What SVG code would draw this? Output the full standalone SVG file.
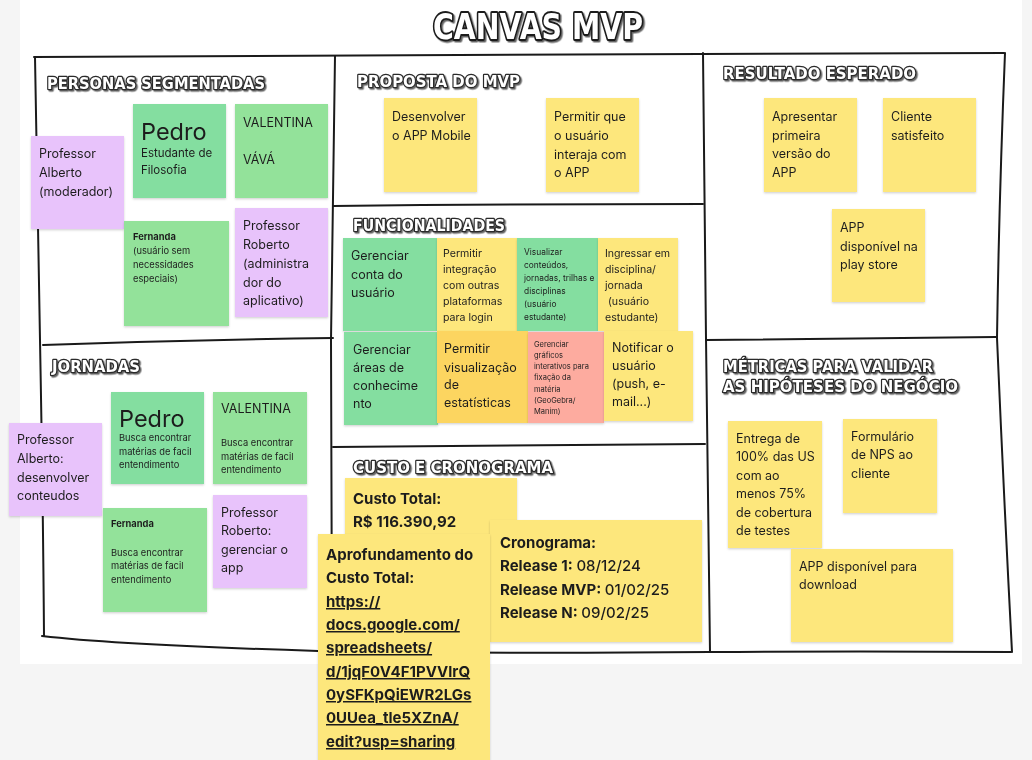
<svg xmlns="http://www.w3.org/2000/svg" width="1032" height="760" viewBox="0 0 1032 760">
<defs>
<style>
.bg{fill:#f5f5f5}
.paper{fill:#ffffff}
.ln{fill:none;stroke:#1a1a1a;stroke-width:2;stroke-linecap:round;stroke-linejoin:round}
.y{fill:#fde77c}
.o{fill:#fcd560}
.g1{fill:#84dea0}
.g2{fill:#93e29a}
.p{fill:#e8c3fb}
.s{fill:#fdab9f}
.t{font-family:Inter,"Liberation Sans",sans-serif;fill:#1e1e1e}
.f12{font-size:12.5px}
.f11{font-size:10.6px}
.f9{font-size:9.3px}
.f8{font-size:8.4px}
.f7{font-size:7.5px}
.big{font-size:23.5px}
.b15{font-size:15px;font-weight:700}
.r15{font-size:15px;font-weight:500}
.u{text-decoration:underline}
.hd{font-family:"DejaVu Sans","Liberation Sans",sans-serif;font-weight:bold;font-size:16px;fill:#ffffff;stroke:#2a2a2a;stroke-width:2.6;paint-order:stroke;stroke-linejoin:round}
.title{font-family:"DejaVu Sans","Liberation Sans",sans-serif;font-weight:bold;font-size:35px;fill:#ffffff;stroke:#1a1a1a;stroke-width:3.8;paint-order:stroke;stroke-linejoin:round}
</style>
<filter id="sh" x="-10%" y="-10%" width="120%" height="130%">
<feDropShadow dx="0" dy="1.2" stdDeviation="1.2" flood-color="#000" flood-opacity="0.18"/>
</filter>
<filter id="hs" x="-5%" y="-30%" width="110%" height="160%">
<feDropShadow dx="1.5" dy="1.5" stdDeviation="0.3" flood-color="#555" flood-opacity="0.9"/>
</filter>
</defs>

<rect class="bg" x="0" y="0" width="1032" height="760"/>
<rect class="paper" x="20" y="0" width="1002" height="664"/>

<g id="title">
<text class="title" x="433" y="39" textLength="210" lengthAdjust="spacingAndGlyphs" filter="url(#hs)">CANVAS MVP</text>
</g>

<g id="frame">
<path class="ln" d="M34,57 Q400,55 700,54 Q860,53 1004,53"/>
<path class="ln" d="M35,57 Q38,200 40,340 Q43,500 44,636"/>
<path class="ln" d="M42,636 Q120,645 318,651 Q500,654 710,652 Q860,651 1011,652"/>
<path class="ln" d="M43,345 Q190,340 333,338"/>
<path class="ln" d="M335,56 Q333,200 331,340 Q331,500 332,650"/>
<path class="ln" d="M333,206 Q520,204 703,204"/>
<path class="ln" d="M333,447 Q520,445 705,444"/>
<path class="ln" d="M703,53 Q705,200 706,338 Q708,500 710,652"/>
<path class="ln" d="M706,340 Q850,338 996,337"/>
<path class="ln" d="M1005,53 Q999,200 997,338 Q1004,500 1012,652"/>
</g>

<g id="headings">
<text class="hd" x="47" y="89" textLength="218" lengthAdjust="spacingAndGlyphs" filter="url(#hs)">PERSONAS SEGMENTADAS</text>
<text class="hd" x="357" y="87" textLength="163" lengthAdjust="spacingAndGlyphs" filter="url(#hs)">PROPOSTA DO MVP</text>
<text class="hd" x="353" y="231" textLength="152" lengthAdjust="spacingAndGlyphs" filter="url(#hs)">FUNCIONALIDADES</text>
<text class="hd" x="723" y="79" textLength="193" lengthAdjust="spacingAndGlyphs" filter="url(#hs)">RESULTADO ESPERADO</text>
<text class="hd" x="723" y="372" textLength="210" lengthAdjust="spacingAndGlyphs" filter="url(#hs)">MÉTRICAS PARA VALIDAR</text>
<text class="hd" x="723" y="392" textLength="235" lengthAdjust="spacingAndGlyphs" filter="url(#hs)">AS HIPÓTESES DO NEGÓCIO</text>
<text class="hd" x="52" y="372" textLength="88" lengthAdjust="spacingAndGlyphs" filter="url(#hs)">JORNADAS</text>
<text class="hd" x="353" y="473" textLength="200" lengthAdjust="spacingAndGlyphs" filter="url(#hs)">CUSTO E CRONOGRAMA</text>
</g>

<!-- Personas -->
<g id="persona-alberto" filter="url(#sh)">
<rect class="p" x="31" y="136" width="93" height="93"/>
<text class="t f12" x="39" y="158">Professor</text>
<text class="t f12" x="39" y="177">Alberto</text>
<text class="t f12" x="39" y="196">(moderador)</text>
</g>
<g id="persona-pedro" filter="url(#sh)">
<rect class="g1" x="133" y="104" width="93" height="94"/>
<text class="t big" x="141" y="140">Pedro</text>
<text class="t" style="font-size:11.5px" x="141" y="157">Estudante de</text>
<text class="t" style="font-size:11.5px" x="141" y="174">Filosofia</text>
</g>
<g id="persona-valentina" filter="url(#sh)">
<rect class="g2" x="235" y="104" width="93" height="94"/>
<text class="t f12" x="243" y="127">VALENTINA</text>
<text class="t f12" x="243" y="164">VÁVÁ</text>
</g>
<g id="persona-fernanda" filter="url(#sh)">
<rect class="g2" x="124" y="221" width="105" height="105"/>
<text class="t f9" x="133" y="240" font-weight="700">Fernanda</text>
<text class="t f9" x="133" y="254">(usuário sem</text>
<text class="t f9" x="133" y="268">necessidades</text>
<text class="t f9" x="133" y="282">especiais)</text>
</g>
<g id="persona-roberto" filter="url(#sh)">
<rect class="p" x="235" y="208" width="93" height="109"/>
<text class="t f12" x="243" y="230">Professor</text>
<text class="t f12" x="243" y="249">Roberto</text>
<text class="t f12" x="243" y="268">(administra</text>
<text class="t f12" x="243" y="287">dor do</text>
<text class="t f12" x="243" y="305">aplicativo)</text>
</g>

<!-- Proposta -->
<g id="proposta-1" filter="url(#sh)">
<rect class="y" x="384" y="98" width="93" height="94"/>
<text class="t f12" x="392" y="121">Desenvolver</text>
<text class="t f12" x="392" y="140">o APP Mobile</text>
</g>
<g id="proposta-2" filter="url(#sh)">
<rect class="y" x="546" y="98" width="93" height="94"/>
<text class="t f12" x="554" y="121">Permitir que</text>
<text class="t f12" x="554" y="140">o usuário</text>
<text class="t f12" x="554" y="159">interaja com</text>
<text class="t f12" x="554" y="177">o APP</text>
</g>

<!-- Resultado -->
<g id="resultado-1" filter="url(#sh)">
<rect class="y" x="764" y="98" width="93" height="94"/>
<text class="t f12" x="772" y="121">Apresentar</text>
<text class="t f12" x="772" y="140">primeira</text>
<text class="t f12" x="772" y="158">versão do</text>
<text class="t f12" x="772" y="177">APP</text>
</g>
<g id="resultado-2" filter="url(#sh)">
<rect class="y" x="883" y="98" width="93" height="94"/>
<text class="t f12" x="891" y="121">Cliente</text>
<text class="t f12" x="891" y="140">satisfeito</text>
</g>
<g id="resultado-3" filter="url(#sh)">
<rect class="y" x="832" y="209" width="93" height="93"/>
<text class="t f12" x="840" y="232">APP</text>
<text class="t f12" x="840" y="251">disponível na</text>
<text class="t f12" x="840" y="269">play store</text>
</g>

<!-- Funcionalidades -->
<g id="func-conta" filter="url(#sh)">
<rect class="g1" x="343" y="238" width="94" height="93"/>
<text class="t f12" x="351" y="260">Gerenciar</text>
<text class="t f12" x="351" y="279">conta do</text>
<text class="t f12" x="351" y="297">usuário</text>
</g>
<g id="func-integracao" filter="url(#sh)">
<rect class="y" x="437" y="238" width="80" height="93"/>
<text class="t f11" x="443" y="257">Permitir</text>
<text class="t f11" x="443" y="273">integração</text>
<text class="t f11" x="443" y="289">com outras</text>
<text class="t f11" x="443" y="305">plataformas</text>
<text class="t f11" x="443" y="321">para login</text>
</g>
<g id="func-visualizar" filter="url(#sh)">
<rect class="g1" x="517" y="238" width="81" height="93"/>
<text class="t f8" x="524" y="255">Visualizar</text>
<text class="t f8" x="524" y="268">conteúdos,</text>
<text class="t f8" x="524" y="281">jornadas, trilhas e</text>
<text class="t f8" x="524" y="294">disciplinas</text>
<text class="t f8" x="524" y="307">(usuário</text>
<text class="t f8" x="524" y="320">estudante)</text>
</g>
<g id="func-ingressar" filter="url(#sh)">
<rect class="y" x="598" y="238" width="80" height="93"/>
<text class="t f11" x="605" y="257">Ingressar em</text>
<text class="t f11" x="605" y="273">disciplina/</text>
<text class="t f11" x="605" y="289">jornada</text>
<text class="t f11" x="608" y="305">(usuário</text>
<text class="t f11" x="605" y="321">estudante)</text>
</g>
<g id="func-areas" filter="url(#sh)">
<rect class="g1" x="344" y="332" width="94" height="93"/>
<text class="t f12" x="353" y="354">Gerenciar</text>
<text class="t f12" x="353" y="372">áreas de</text>
<text class="t f12" x="353" y="390">conhecime</text>
<text class="t f12" x="353" y="408">nto</text>
</g>
<g id="func-estatisticas" filter="url(#sh)">
<rect class="o" x="437" y="331" width="91" height="92"/>
<text class="t f12" x="444" y="353">Permitir</text>
<text class="t f12" x="444" y="372">visualização</text>
<text class="t f12" x="444" y="389">de</text>
<text class="t f12" x="444" y="407">estatísticas</text>
</g>
<g id="func-graficos" filter="url(#sh)">
<rect class="s" x="528" y="332" width="76" height="91"/>
<text class="t f7" x="534" y="347">Gerenciar</text>
<text class="t f7" x="534" y="358">gráficos</text>
<text class="t f7" x="534" y="369">interativos para</text>
<text class="t f7" x="534" y="380">fixação da</text>
<text class="t f7" x="534" y="392">matéria</text>
<text class="t f7" x="534" y="403">(GeoGebra/</text>
<text class="t f7" x="534" y="414">Manim)</text>
</g>
<g id="func-notificar" filter="url(#sh)">
<rect class="y" x="604" y="331" width="89" height="90"/>
<text class="t f12" x="612" y="352">Notificar o</text>
<text class="t f12" x="612" y="370">usuário</text>
<text class="t f12" x="612" y="388">(push, e-</text>
<text class="t f12" x="612" y="406">mail...)</text>
</g>

<!-- Métricas -->
<g id="metrica-entrega" filter="url(#sh)">
<rect class="y" x="728" y="421" width="94" height="127"/>
<text class="t f12" x="736" y="443">Entrega de</text>
<text class="t f12" x="736" y="461">100% das US</text>
<text class="t f12" x="736" y="480">com ao</text>
<text class="t f12" x="736" y="498">menos 75%</text>
<text class="t f12" x="736" y="517">de cobertura</text>
<text class="t f12" x="736" y="535">de testes</text>
</g>
<g id="metrica-nps" filter="url(#sh)">
<rect class="y" x="843" y="419" width="94" height="94"/>
<text class="t f12" x="851" y="441">Formulário</text>
<text class="t f12" x="851" y="459">de NPS ao</text>
<text class="t f12" x="851" y="478">cliente</text>
</g>
<g id="metrica-download" filter="url(#sh)">
<rect class="y" x="791" y="549" width="162" height="93"/>
<text class="t f12" x="799" y="571">APP disponível para</text>
<text class="t f12" x="799" y="589">download</text>
</g>

<!-- Jornadas -->
<g id="jornada-alberto" filter="url(#sh)">
<rect class="p" x="9" y="423" width="93" height="93"/>
<text class="t f12" x="17" y="444">Professor</text>
<text class="t f12" x="17" y="463">Alberto:</text>
<text class="t f12" x="17" y="482">desenvolver</text>
<text class="t f12" x="17" y="500">conteudos</text>
</g>
<g id="jornada-pedro" filter="url(#sh)">
<rect class="g1" x="111" y="392" width="93" height="92"/>
<text class="t big" x="119" y="427">Pedro</text>
<text class="t f9" x="119" y="441">Busca encontrar</text>
<text class="t f9" x="119" y="455">matérias de facil</text>
<text class="t f9" x="119" y="468">entendimento</text>
</g>
<g id="jornada-valentina" filter="url(#sh)">
<rect class="g2" x="213" y="392" width="94" height="92"/>
<text class="t f12" x="221" y="413">VALENTINA</text>
<text class="t f9" x="221" y="446">Busca encontrar</text>
<text class="t f9" x="221" y="460">matérias de facil</text>
<text class="t f9" x="221" y="473">entendimento</text>
</g>
<g id="jornada-fernanda" filter="url(#sh)">
<rect class="g2" x="103" y="508" width="104" height="104"/>
<text class="t f9" x="111" y="527" font-weight="700">Fernanda</text>
<text class="t f9" x="111" y="556">Busca encontrar</text>
<text class="t f9" x="111" y="569">matérias de facil</text>
<text class="t f9" x="111" y="583">entendimento</text>
</g>
<g id="jornada-roberto" filter="url(#sh)">
<rect class="p" x="213" y="495" width="94" height="93"/>
<text class="t f12" x="221" y="517">Professor</text>
<text class="t f12" x="221" y="535">Roberto:</text>
<text class="t f12" x="221" y="554">gerenciar o</text>
<text class="t f12" x="221" y="572">app</text>
</g>

<!-- Custo & Cronograma -->
<g id="custo-total" filter="url(#sh)">
<rect class="y" x="345" y="478" width="172" height="80"/>
<text class="t b15" x="353" y="504">Custo Total:</text>
<text class="t b15" x="353" y="527">R$ 116.390,92</text>
</g>
<g id="cronograma" filter="url(#sh)">
<rect class="y" x="490" y="520" width="212" height="122"/>
<text class="t b15" x="500" y="548">Cronograma:</text>
<text class="t b15" x="500" y="571">Release 1: <tspan class="r15">08/12/24</tspan></text>
<text class="t b15" x="500" y="595">Release MVP: <tspan class="r15">01/02/25</tspan></text>
<text class="t b15" x="500" y="618">Release N: <tspan class="r15">09/02/25</tspan></text>
</g>
<g id="custo-aprofundamento" filter="url(#sh)">
<rect class="y" x="318" y="534" width="172" height="230"/>
<text class="t b15" x="326" y="560">Aprofundamento do</text>
<text class="t b15" x="326" y="583">Custo Total:</text>
<text class="t b15 u" x="326" y="607">https://</text>
<text class="t b15 u" x="326" y="630">docs.google.com/</text>
<text class="t b15 u" x="326" y="653">spreadsheets/</text>
<text class="t b15 u" x="326" y="677">d/1jqF0V4F1PVVlrQ</text>
<text class="t b15 u" x="326" y="700">0ySFKpQiEWR2LGs</text>
<text class="t b15 u" x="326" y="723">0UUea_tle5XZnA/</text>
<text class="t b15 u" x="326" y="747">edit?usp=sharing</text>
</g>
</svg>
